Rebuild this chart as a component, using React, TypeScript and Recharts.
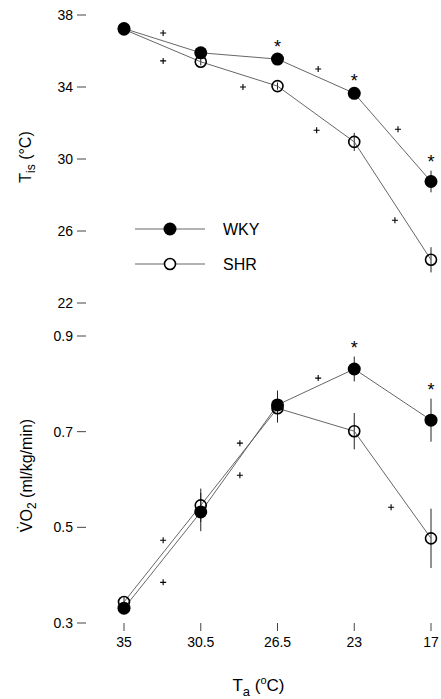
import { ComposedChart, Line, Scatter, XAxis, YAxis, ErrorBar, Legend } from "recharts"

const FONT = '"Liberation Sans", Arial, Helvetica, sans-serif'

// ambient temperatures (°C), evenly spaced categories
const tempLabels = ["35", "30.5", "26.5", "23", "17"]

// interscapular temperature T_is (°C)
const tisWky = [37.25, 35.9, 35.55, 33.65, 28.75]
const tisWkyErr = [0.15, 0.2, 0.2, 0.2, 0.6]
const tisShr = [37.2, 35.4, 34.05, 30.95, 24.4]
const tisShrErr = [0.15, 0.2, 0.2, 0.5, 0.7]
const tisStar = [false, false, true, true, true]
const tisPlusX = [0.51, 0.51, 1.55, 2.53, 2.51, 3.57, 3.53]
const tisPlusY = [37.0, 35.45, 34.0, 35.0, 31.6, 31.65, 26.6]

// oxygen consumption VO2 (ml/kg/min)
const vo2Wky = [0.331, 0.532, 0.756, 0.831, 0.724]
const vo2WkyErr = [0.01, 0.04, 0.03, 0.026, 0.045]
const vo2Shr = [0.344, 0.546, 0.749, 0.701, 0.477]
const vo2ShrErr = [0.01, 0.035, 0.03, 0.038, 0.062]
const vo2Star = [false, false, false, true, true]
const vo2PlusX = [0.51, 0.51, 1.51, 1.51, 2.53, 3.48]
const vo2PlusY = [0.473, 0.385, 0.676, 0.609, 0.812, 0.542]

const tisTicks = [22, 26, 30, 34, 38]
const vo2Ticks = [0.3, 0.5, 0.7, 0.9]
const legendNames = ["WKY", "SHR"]

const buildRows = (wky: number[], wkyErr: number[], shr: number[], shrErr: number[]) =>
  tempLabels.map((_, i) => ({ x: i, wky: wky[i], wkyErr: wkyErr[i], shr: shr[i], shrErr: shrErr[i] }))

const buildStars = (flags: boolean[], wky: number[], err: number[]) =>
  flags.map((f, i) => (f ? { x: i, y: wky[i] + err[i] } : null)).filter(Boolean)

const tisRows = buildRows(tisWky, tisWkyErr, tisShr, tisShrErr)
const vo2Rows = buildRows(vo2Wky, vo2WkyErr, vo2Shr, vo2ShrErr)
const tisPlus = tisPlusX.map((x, i) => ({ x, y: tisPlusY[i] }))
const vo2Plus = vo2PlusX.map((x, i) => ({ x, y: vo2PlusY[i] }))
const tisStars = buildStars(tisStar, tisWky, tisWkyErr)
const vo2Stars = buildStars(vo2Star, vo2Wky, vo2WkyErr)

const tickStyle = { fill: "#000", fontSize: 14, fontFamily: FONT }

const PlusShape = (p: any) => (
  <path
    d={`M${p.cx - 3},${p.cy}H${p.cx + 3}M${p.cx},${p.cy - 3}V${p.cy + 3}`}
    stroke="#000"
    strokeWidth={1.1}
    fill="none"
  />
)

const StarShape = (p: any) => (
  <text x={p.cx} y={p.cy - 3} textAnchor="middle" fontSize={18} fontFamily={FONT} fill="#000">
    *
  </text>
)

const TisTitle = (props: any) => {
  const vb = props.viewBox
  const x = 31
  const y = vb.y + vb.height / 2 - 2
  return (
    <text x={x} y={y} transform={`rotate(-90 ${x} ${y})`} textAnchor="middle" fontSize={16} fontFamily={FONT} fill="#000">
      T<tspan fontSize={12} dy={4}>is</tspan>
      <tspan dy={-4}> (°C)</tspan>
    </text>
  )
}

const Vo2Title = (props: any) => {
  const vb = props.viewBox
  const x = 32
  const y = vb.y + vb.height / 2 - 4
  return (
    <text x={x} y={y} transform={`rotate(-90 ${x} ${y})`} textAnchor="middle" fontSize={16} fontFamily={FONT} fill="#000">
      V<tspan dx={-8} dy={-3}>˙</tspan>
      <tspan dx={2.7} dy={3}>O</tspan>
      <tspan fontSize={12} dy={4}>2</tspan>
      <tspan dy={-4}> (ml/kg/min)</tspan>
    </text>
  )
}

const TaTitle = (props: any) => {
  const vb = props.viewBox
  const x = vb.x + vb.width / 2
  const y = 691 - 315
  return (
    <text x={x} y={y} textAnchor="middle" fontSize={17} fontFamily={FONT} fill="#000">
      T<tspan fontSize={13} dy={5}>a</tspan>
      <tspan dy={-5}> (</tspan>
      <tspan fontSize={11} dy={-7}>o</tspan>
      <tspan dy={7}>C)</tspan>
    </text>
  )
}

const renderLegend = () => (
  <svg width={160} height={60} style={{ overflow: "visible" }}>
    {legendNames.map((name, i) => {
      const cy = 8 + i * 35
      return (
        <g key={name}>
          <line x1={2} x2={72} y1={cy} y2={cy} stroke="#555" strokeWidth={0.9} />
          {i === 0 ? (
            <circle cx={37} cy={cy} r={6.5} fill="#000" />
          ) : (
            <circle cx={37} cy={cy} r={5.5} fill="#fff" stroke="#000" strokeWidth={1.6} />
          )}
          <text x={90} y={cy + 6} fontSize={16} fontFamily={FONT} fill="#000">
            {name}
          </text>
        </g>
      )
    })}
  </svg>
)

const shrDot = { r: 5.5, fill: "#fff", fillOpacity: 0, stroke: "#000", strokeWidth: 1.6 }
const wkyDot = { r: 6.5, fill: "#000", stroke: "#000", strokeWidth: 0 }

export default function App() {
  return (
    <div style={{ position: "absolute", left: 0, top: 0, width: 441, height: 699, background: "#fff" }}>
      <ComposedChart width={441} height={315} data={tisRows} margin={{ top: 15, right: 10, bottom: 0, left: 0 }}>
        <XAxis
          dataKey="x"
          type="number"
          domain={[0, 4]}
          ticks={[0, 1, 2, 3, 4]}
          padding={{ left: 38, right: 0 }}
          axisLine={false}
          tick={false}
          tickSize={3}
          tickLine={{ stroke: "#aaa" }}
          height={12}
        />
        <YAxis
          type="number"
          domain={[22, 38]}
          ticks={tisTicks}
          axisLine={false}
          tickSize={9}
          tickMargin={4}
          tickLine={{ stroke: "#444" }}
          tick={tickStyle}
          width={86}
          label={<TisTitle />}
        />
        <Legend
          layout="vertical"
          align="center"
          verticalAlign="middle"
          content={renderLegend}
          wrapperStyle={{ left: 133, top: 221, width: 160, height: 60 }}
        />
        <Line dataKey="shr" stroke="#555" strokeWidth={0.9} dot={shrDot} activeDot={false} isAnimationActive={false}>
          <ErrorBar dataKey="shrErr" width={0} stroke="#222" strokeWidth={1} />
        </Line>
        <Line dataKey="wky" stroke="#555" strokeWidth={0.9} dot={wkyDot} activeDot={false} isAnimationActive={false}>
          <ErrorBar dataKey="wkyErr" width={0} stroke="#222" strokeWidth={1} />
        </Line>
        <Scatter data={tisPlus} dataKey="y" shape={PlusShape} isAnimationActive={false} />
        <Scatter data={tisStars} dataKey="y" shape={StarShape} isAnimationActive={false} />
      </ComposedChart>
      <ComposedChart width={441} height={384} data={vo2Rows} margin={{ top: 21, right: 10, bottom: 0, left: 0 }}>
        <XAxis
          dataKey="x"
          type="number"
          domain={[0, 4]}
          ticks={[0, 1, 2, 3, 4]}
          tickFormatter={(v: number) => tempLabels[v]}
          padding={{ left: 38, right: 0 }}
          axisLine={false}
          tickSize={8}
          tickMargin={6}
          tickLine={{ stroke: "#444" }}
          tick={tickStyle}
          height={76}
          label={<TaTitle />}
        />
        <YAxis
          type="number"
          domain={[0.3, 0.9]}
          ticks={vo2Ticks}
          tickFormatter={(v: number) => v.toFixed(1)}
          axisLine={false}
          tickSize={9}
          tickMargin={4}
          tickLine={{ stroke: "#444" }}
          tick={tickStyle}
          width={86}
          label={<Vo2Title />}
        />
        <Line dataKey="shr" stroke="#555" strokeWidth={0.9} dot={shrDot} activeDot={false} isAnimationActive={false}>
          <ErrorBar dataKey="shrErr" width={0} stroke="#222" strokeWidth={1} />
        </Line>
        <Line dataKey="wky" stroke="#555" strokeWidth={0.9} dot={wkyDot} activeDot={false} isAnimationActive={false}>
          <ErrorBar dataKey="wkyErr" width={0} stroke="#222" strokeWidth={1} />
        </Line>
        <Scatter data={vo2Plus} dataKey="y" shape={PlusShape} isAnimationActive={false} />
        <Scatter data={vo2Stars} dataKey="y" shape={StarShape} isAnimationActive={false} />
      </ComposedChart>
    </div>
  )
}
